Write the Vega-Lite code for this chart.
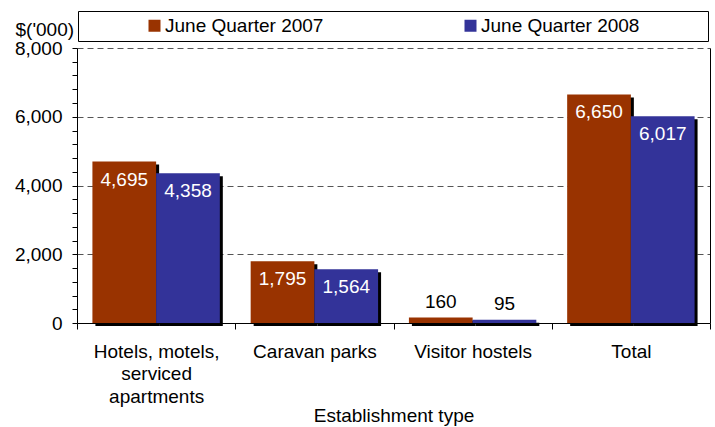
{
  "$schema": "https://vega.github.io/schema/vega-lite/v6.json",
  "width": 633,
  "height": 275,
  "autosize": {"type": "none"},
  "padding": {"left": 77, "top": 48, "right": 5, "bottom": 104},
  "background": "white",
  "config": {
    "font": "Liberation Sans",
    "view": {"stroke": null},
    "axis": {"labelFont": "Liberation Sans", "titleFont": "Liberation Sans", "labelColor": "black", "titleColor": "black", "labelFontSize": 19, "titleFontSize": 19, "titleFontWeight": "normal", "domainColor": "black", "tickColor": "black"}
  },
  "data": {
    "values": [
      {"type": "Hotels, motels, serviced apartments", "quarter": "June Quarter 2007", "value": 4695},
      {"type": "Hotels, motels, serviced apartments", "quarter": "June Quarter 2008", "value": 4358},
      {"type": "Caravan parks", "quarter": "June Quarter 2007", "value": 1795},
      {"type": "Caravan parks", "quarter": "June Quarter 2008", "value": 1564},
      {"type": "Visitor hostels", "quarter": "June Quarter 2007", "value": 160},
      {"type": "Visitor hostels", "quarter": "June Quarter 2008", "value": 95},
      {"type": "Total", "quarter": "June Quarter 2007", "value": 6650},
      {"type": "Total", "quarter": "June Quarter 2008", "value": 6017}
    ]
  },
  "encoding": {
    "x": {
      "field": "type", "type": "nominal", "sort": null,
      "scale": {"paddingInner": 0, "paddingOuter": 0},
      "axis": {
        "title": "Establishment type",
        "labelAngle": 0,
        "labelExpr": "datum.value == 'Hotels, motels, serviced apartments' ? ['Hotels, motels,', 'serviced', 'apartments'] : datum.value",
        "labelLineHeight": 22.5,
        "labelPadding": 13,
        "labelBaseline": "top",
        "tickBand": "extent",
        "tickSize": 6,
        "domainWidth": 1,
        "titleBaseline": "alphabetic",
        "titleY": 98.7,
        "labelLimit": 0
      }
    }
  },
  "resolve": {"axis": {"y": "independent"}, "scale": {"xOffset": "independent"}},
  "layer": [
    {
      "mark": {"type": "bar", "color": "black", "yOffset": 3, "y2Offset": -3},
      "encoding": {
        "xOffset": {"field": "quarter", "type": "nominal", "scale": {"paddingInner": 0, "paddingOuter": 0.242, "align": 0.597}},
        "y": {"field": "value", "type": "quantitative", "axis": null}
      }
    },
    {
      "mark": {"type": "bar"},
      "encoding": {
        "xOffset": {"field": "quarter", "type": "nominal", "scale": {"paddingInner": 0, "paddingOuter": 0.242}},
        "y": {
          "field": "value", "type": "quantitative",
          "scale": {"domain": [0, 8000], "nice": false},
          "axis": {
            "values": [0, 400, 800, 1200, 1600, 2000, 2400, 2800, 3200, 3600, 4000, 4400, 4800, 5200, 5600, 6000, 6400, 6800, 7200, 7600, 8000],
            "labelExpr": "datum.value % 2000 === 0 ? format(datum.value, ',') : ''",
            "tickSize": 5,
            "labelPadding": 10,
            "grid": true,
            "gridColor": "#555555",
            "gridDash": [6, 4],
            "gridOpacity": {"condition": {"test": "datum.value % 2000 === 0 && datum.value > 0", "value": 1}, "value": 0},
            "title": "$('000)",
            "titleAngle": 0,
            "titleAlign": "left",
            "titleBaseline": "alphabetic",
            "titleX": -62,
            "titleY": -13
          }
        },
        "color": {
          "field": "quarter", "type": "nominal",
          "scale": {"range": ["#993300", "#333399"]},
          "legend": {
            "title": "MM",
            "titleColor": "white",
            "titleOrient": "right",
            "titlePadding": 32,
            "titleFontSize": 19,
            "titleFont": "Liberation Sans",
            "orient": "none",
            "direction": "horizontal",
            "legendX": 1,
            "legendY": -37,
            "padding": 5,
            "strokeColor": "black",
            "fillColor": "white",
            "symbolType": "square",
            "symbolSize": 144,
            "symbolStrokeWidth": 0,
            "symbolOffset": 62,
            "labelOffset": 1,
            "columnPadding": 75,
            "labelFont": "Liberation Sans",
            "labelFontSize": 19,
            "labelColor": "black",
            "labelLimit": 0
          }
        }
      }
    },
    {
      "transform": [{"filter": "datum.value >= 1000"}],
      "mark": {"type": "text", "color": "white", "fontSize": 19, "baseline": "alphabetic", "dy": 24, "font": "Liberation Sans"},
      "encoding": {
        "xOffset": {"field": "quarter", "type": "nominal", "scale": {"type": "point", "padding": 0.742}},
        "y": {"field": "value", "type": "quantitative", "axis": null},
        "text": {"field": "value", "type": "quantitative", "format": ","}
      }
    },
    {
      "transform": [{"filter": "datum.value < 1000"}],
      "mark": {"type": "text", "color": "black", "fontSize": 19, "baseline": "alphabetic", "dy": -10, "font": "Liberation Sans"},
      "encoding": {
        "xOffset": {"field": "quarter", "type": "nominal", "scale": {"type": "point", "padding": 0.742}},
        "y": {"field": "value", "type": "quantitative", "axis": {"orient": "right", "labels": false, "ticks": false, "grid": false, "title": null, "domain": true, "domainColor": "black"}},
        "text": {"field": "value", "type": "quantitative", "format": ","}
      }
    }
  ]
}
